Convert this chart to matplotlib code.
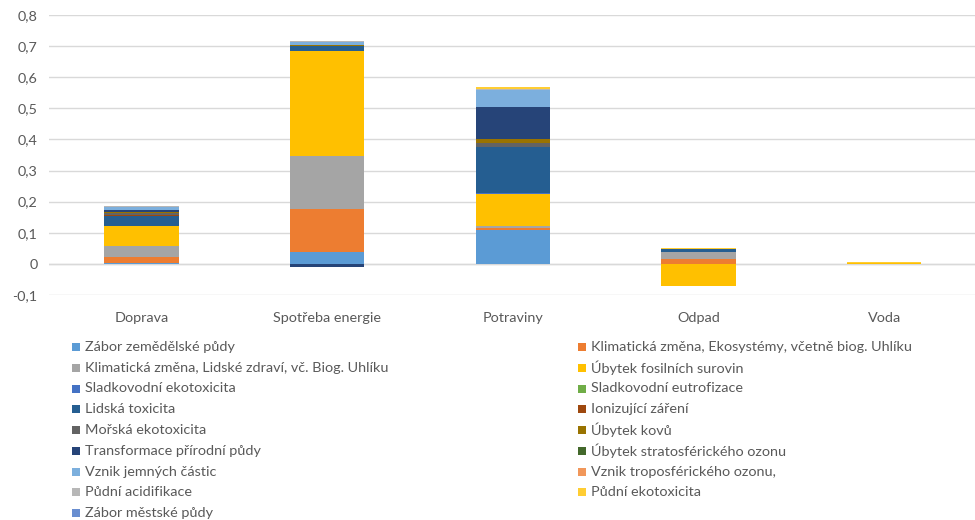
import matplotlib
matplotlib.use('Agg')
import matplotlib.pyplot as plt
from matplotlib.patches import Rectangle
import numpy as np

plt.rcParams['font.family'] = ['Lato', 'DejaVu Sans']

# categories (x axis)
categories = ['Doprava', 'Spotřeba energie', 'Potraviny', 'Odpad', 'Voda']

# impact categories, stacked in this order
series_names = [
    'Zábor zemědělské půdy',
    'Klimatická změna, Ekosystémy, včetně biog. Uhlíku',
    'Klimatická změna, Lidské zdraví, vč. Biog. Uhlíku',
    'Úbytek fosilních surovin',
    'Sladkovodní ekotoxicita',
    'Sladkovodní eutrofizace',
    'Lidská toxicita',
    'Ionizující záření',
    'Mořská ekotoxicita',
    'Úbytek kovů',
    'Transformace přírodní půdy',
    'Úbytek stratosférického ozonu',
    'Vznik jemných částic',
    'Vznik troposférického ozonu,',
    'Půdní acidifikace',
    'Půdní ekotoxicita',
    'Zábor městské půdy',
]

# values per series: Doprava, Spotřeba energie, Potraviny, Odpad, Voda
zabor_zem = [0.003, 0.037, 0.107, 0.000, 0.000]
klima_eko = [0.020, 0.138, 0.008, 0.016, 0.000]
klima_lz = [0.033, 0.173, 0.007, 0.022, 0.000]
fosil = [0.065, 0.336, 0.104, -0.070, 0.004]
sladk_ekotox = [0.001, 0.001, 0.001, 0.000, 0.000]
eutrofizace = [0.001, 0.001, 0.001, 0.000, 0.000]
lidska_tox = [0.032, 0.014, 0.147, 0.008, 0.000]
ionizace = [0.002, 0.001, 0.001, 0.000, 0.000]
morska = [0.005, 0.001, 0.011, 0.000, 0.000]
kovy = [0.004, 0.001, 0.015, 0.000, 0.000]
transformace = [0.006, -0.012, 0.101, 0.000, 0.000]
strat_ozon = [0.001, 0.000, 0.000, 0.000, 0.000]
jemne_castice = [0.009, 0.010, 0.056, 0.001, 0.000]
tropo_ozon = [0.001, 0.001, 0.001, 0.000, 0.000]
acidifikace = [0.002, 0.002, 0.003, 0.001, 0.000]
pudni_ekotox = [0.000, 0.001, 0.005, 0.002, 0.001]
zabor_mest = [0.001, 0.001, 0.002, 0.000, 0.000]

series_values = [zabor_zem, klima_eko, klima_lz, fosil, sladk_ekotox, eutrofizace,
                 lidska_tox, ionizace, morska, kovy, transformace, strat_ozon,
                 jemne_castice, tropo_ozon, acidifikace, pudni_ekotox, zabor_mest]

colors = ['#5B9BD5', '#ED7D31', '#A5A5A5', '#FFC000', '#4472C4', '#70AD47',
          '#255E91', '#9E480E', '#636363', '#997300', '#264478', '#43682B',
          '#7CAFDD', '#F1975A', '#B7B7B7', '#FFCD33', '#698ED0']

W, H = 975, 520
fig = plt.figure(figsize=(W / 100, H / 100), dpi=100)
ax = fig.add_axes([0.050, 0.433, 0.952, 0.538])

x = np.arange(len(categories))
pos_base = np.zeros(len(categories))
neg_base = np.zeros(len(categories))
for name, vals, col in zip(series_names, series_values, colors):
    vals = np.array(vals)
    bottom = np.where(vals >= 0, pos_base, neg_base)
    ax.bar(x, vals, width=0.4, bottom=bottom, color=col, label=name, zorder=3)
    pos_base += np.where(vals >= 0, vals, 0)
    neg_base += np.where(vals < 0, vals, 0)

ax.set_xlim(-0.5, len(categories) - 0.5)
ax.set_ylim(-0.1, 0.8)
yt = np.arange(-0.1, 0.81, 0.1)
ax.set_yticks(yt)
ax.set_yticklabels([('0' if abs(v) < 1e-9 else f'{v:.1f}'.replace('.', ',')) for v in yt])
ax.set_xticks(x)
ax.set_xticklabels(categories)
ax.grid(axis='y', color='#D9D9D9', linewidth=1, zorder=0)
ax.axhline(0, color='#D9D9D9', linewidth=1, zorder=1)
for s in ax.spines.values():
    s.set_visible(False)
ax.tick_params(axis='both', length=0, labelsize=10.4, colors='#595959', pad=8)
ax.tick_params(axis='x', pad=12)

# legend drawn by hand, Excel style: two columns filled row by row
col_x = [72, 578]      # pixel x of the colour square
row_y0, row_step = 347, 20.75
sq = 8
for i, (name, col) in enumerate(zip(series_names, colors)):
    r, c = divmod(i, 2)
    px = col_x[c]
    py = row_y0 + r * row_step
    fig.patches.append(Rectangle((px / W, 1 - (py + sq / 2) / H), sq / W, sq / H,
                                 transform=fig.transFigure, facecolor=col,
                                 edgecolor='none'))
    fig.text((px + 13) / W, 1 - py / H, name, fontsize=10.4, color='#595959',
             ha='left', va='center')

plt.savefig('out.png', dpi=100)
